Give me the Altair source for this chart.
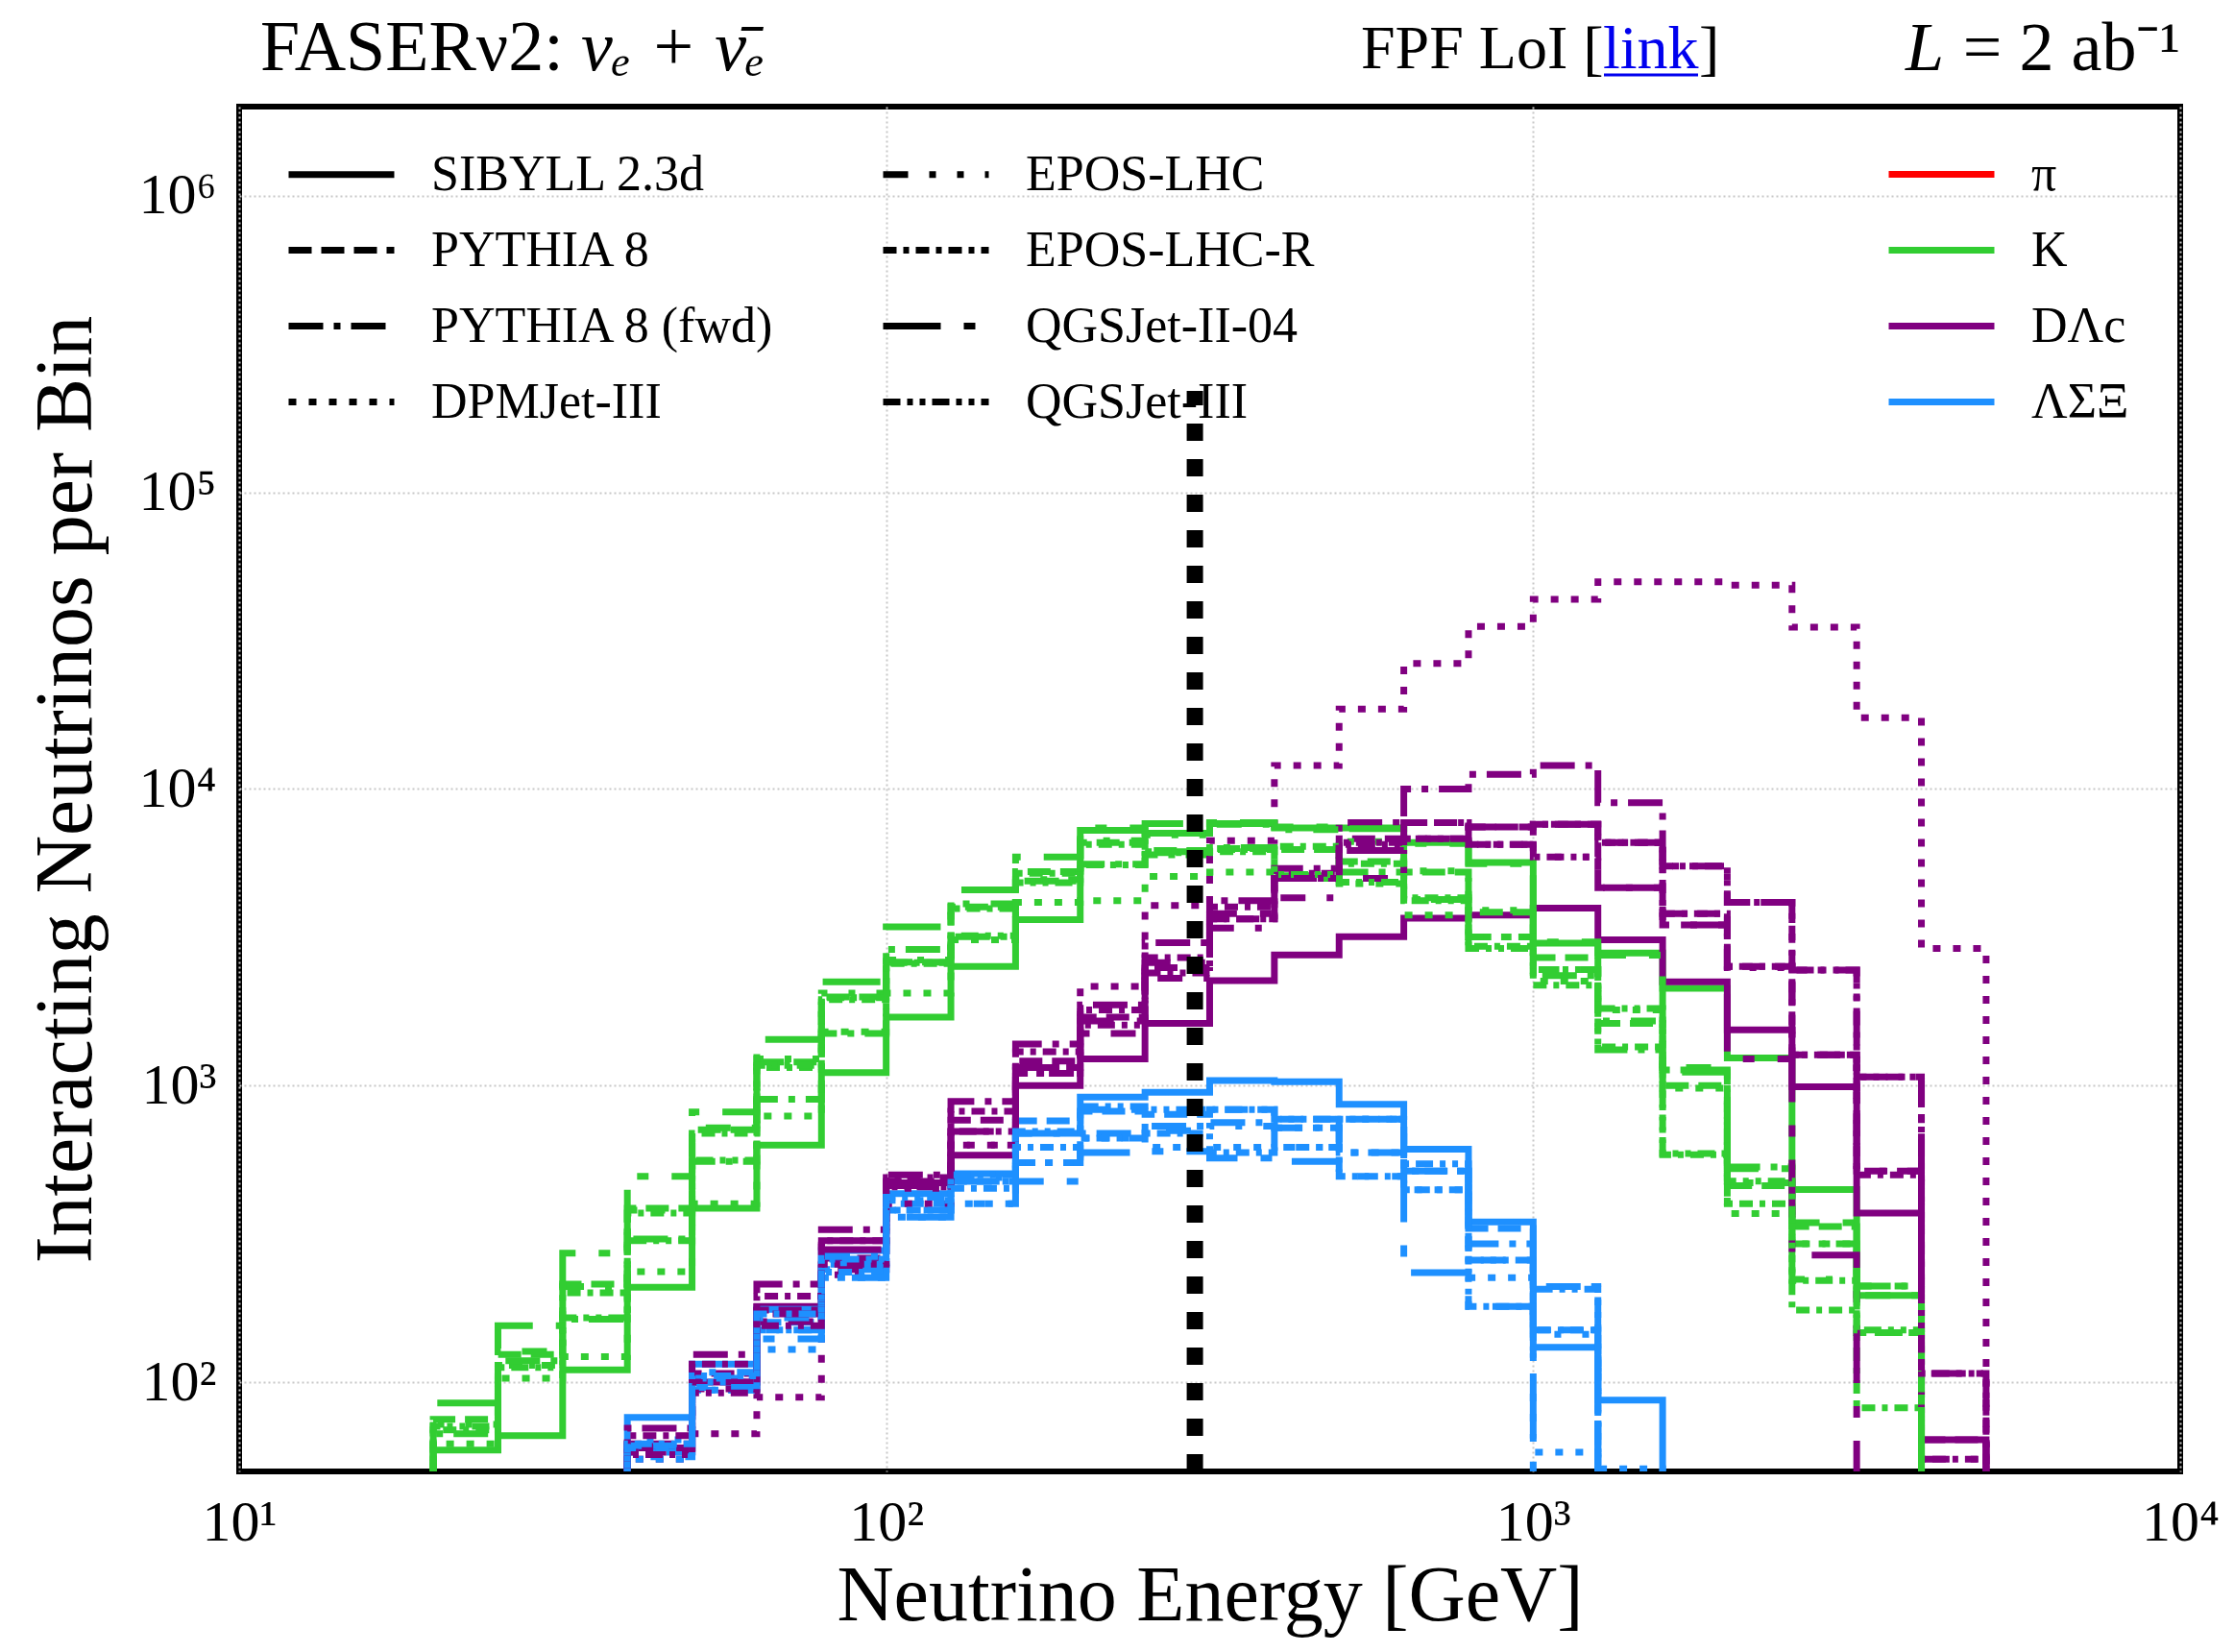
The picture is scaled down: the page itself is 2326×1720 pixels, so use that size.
import altair as alt
import pandas as pd

# ---------------- data ----------------
# bin edges in GeV (10 bins per decade, 10^1.3 ... 10^3.7)
EDGES = [19.95, 25.12, 31.62, 39.81, 50.12, 63.10, 79.43, 100.0, 125.9, 158.5,
         199.5, 251.2, 316.2, 398.1, 501.2, 631.0, 794.3, 1000.0, 1259.0, 1585.0,
         1995.0, 2512.0, 3162.0, 3981.0, 5012.0]

GENERATORS = ["SIBYLL 2.3d", "PYTHIA 8", "PYTHIA 8 (fwd)", "DPMJet-III",
              "EPOS-LHC", "EPOS-LHC-R", "QGSJet-II-04", "QGSJet-III"]
PARTICLES = ["π", "K", "DΛc", "ΛΣΞ"]
COLORS = ["#ff0000", "#32cd32", "#800080", "#1e90ff"]

# Kaons: first bin starts at EDGES[0]
K_START = 0
K_SIBYLL = [59, 66, 110, 209, 386, 630, 1107, 1700, 2520, 3630, 7250, 7100, 7650, 7400, 7400, 6600, 5650, 3020, 2800, 2130, 1240, 446, 196]
K_PYTHIA = [75, 124, 214, 386, 710, 1200, 1990, 2610, 4000, 5270, 6600, 6200, 6300, 6250, 5700, 5250, 3840, 2700, 1620, 1000, 460, 335, 147]
K_PYTHIAF = [67, 118, 163, 304, 555, 900, 1500, 2880, 3180, 4900, 5580, 6000, 6350, 5100, 5250, 4240, 3170, 2350, 1320, 1130, 532, 293, 211]
K_DPMJET = [62, 103, 122, 236, 400, 790, 1520, 2050, 3100, 4150, 4200, 5070, 5250, 5000, 4800, 3760, 3170, 2250, 1800, 980, 370, 293, 147]
K_EPOS = [72, 127, 210, 380, 720, 1230, 2050, 2650, 4100, 4950, 6700, 7000, 7600, 7300, 6650, 5300, 3900, 2460, 1650, 1150, 470, 222, 196]
K_EPOSR = [69, 114, 200, 372, 690, 1150, 1950, 2580, 3950, 5200, 6500, 6100, 6150, 6400, 5600, 4300, 2950, 2180, 1350, 585, 400, 175, 82]
K_QGSII = [85, 155, 272, 494, 815, 1430, 2240, 3430, 4570, 5900, 7400, 7650, 7700, 7450, 7350, 6550, 5600, 3050, 2750, 1110, 525, 345, 211]
K_QGSIII = [71, 112, 165, 300, 560, 1170, 1980, 2600, 3200, 4830, 5550, 6150, 6250, 5150, 4850, 4200, 2900, 2460, 1820, 590, 476, 220, 150]

# Charm: first bin starts at EDGES[3]
D_START = 3
D_SIBYLL = [60, 100, 180, 300, 470, 582, 1000, 1230, 1620, 2260, 2760, 3180, 3670, 3760, 3970, 3100, 2240, 1540, 990, 372, 64]
D_PYTHIA = [62, 107, 175, 262, 475, 765, 1210, 1700, 2500, 3650, 5000, 6800, 7700, 7450, 7600, 6600, 3800, 2520, 1270, 515, 64]
D_PYTHIAF = [70, 124, 214, 327, 500, 884, 1380, 1870, 3030, 4200, 5400, 7700, 10000, 11200, 12000, 9000, 5500, 4150, 2450, 1070, 107]
D_DPMJET = [55, 67, 89, 230, 400, 630, 1100, 2160, 4050, 6700, 12000, 18600, 26500, 35300, 43600, 50000, 50000, 48700, 35100, 17400, 2900]
D_EPOS = [58, 95, 160, 240, 450, 630, 1100, 1500, 2300, 3400, 4300, 5000, 6800, 6500, 5900, 4650, 3480, 2500, 1270, 515, 55]
D_EPOSR = [66, 115, 195, 300, 490, 820, 1300, 1800, 2700, 4000, 5200, 6600, 6800, 6500, 7600, 6600, 3800, 2520, 1270, 500, 55]
D_QGSII = [60, 100, 170, 280, 460, 700, 1150, 1650, 2600, 3800, 5000, 6200, 6800, 7450, 7600, 4650, 3480, 1230, 268]
D_QGSIII = [57, 92, 155, 250, 455, 700, 1150, 1600, 2400, 3650, 5000, 6500, 7700, 6500, 5900, 6600, 5500, 4150, 2450, 1070, 107]

# Hyperons: first bin starts at EDGES[3]
L_START = 3
L_SIBYLL = [76, 115, 176, 278, 432, 505, 690, 915, 950, 1040, 1030, 865, 610, 347, 131, 87]
L_PYTHIA = [61, 103, 159, 250, 400, 475, 760, 820, 800, 830, 770, 770, 515, 330, 150]
L_PYTHIAF = [58, 94, 150, 240, 380, 475, 550, 690, 730, 750, 720, 595, 515, 293, 210]
L_DPMJET = [55, 94, 129, 225, 360, 400, 550, 665, 620, 620, 720, 595, 445, 225, 58, 51]
L_EPOS = [64, 108, 165, 265, 410, 490, 690, 830, 705, 730, 620, 770, 515, 258, 145]
L_EPOSR = [60, 100, 150, 235, 380, 450, 620, 665, 690, 595, 620, 494, 445, 180, 150]
L_QGSII = [56, 96, 140, 225, 360, 400, 475, 595, 600, 570, 555, 494, 234, 180]
L_QGSIII = [62, 105, 170, 260, 420, 500, 700, 850, 830, 830, 770, 770, 545, 258, 206]

CUT_E = [300.0]          # vertical reference line
CUT_TOP = [2.2e5]

# ---------------- table ----------------
SERIES = {
    "K": (K_START, [K_SIBYLL, K_PYTHIA, K_PYTHIAF, K_DPMJET, K_EPOS, K_EPOSR, K_QGSII, K_QGSIII]),
    "DΛc": (D_START, [D_SIBYLL, D_PYTHIA, D_PYTHIAF, D_DPMJET, D_EPOS, D_EPOSR, D_QGSII, D_QGSIII]),
    "ΛΣΞ": (L_START, [L_SIBYLL, L_PYTHIA, L_PYTHIAF, L_DPMJET, L_EPOS, L_EPOSR, L_QGSII, L_QGSIII]),
}
FLOOR = 1.0  # below the axis: step edges fall off the bottom of the plot

rows = []
for gi, gen in enumerate(GENERATORS):
    for part, (start, lists) in SERIES.items():
        vals = lists[gi]
        pts = [(EDGES[start], FLOOR)]
        for i, v in enumerate(vals):
            pts.append((EDGES[start + i], v))
            pts.append((EDGES[start + i + 1], v))
        pts.append((EDGES[start + len(vals)], FLOOR))
        for k, (e, n) in enumerate(pts):
            rows.append({"E": e, "N": n, "particle": part, "generator": gen,
                         "series": part + "|" + gen, "idx": k})
df = pd.DataFrame(rows)

DASH = {
    "SIBYLL 2.3d": [1, 0],
    "PYTHIA 8": [24, 10],
    "PYTHIA 8 (fwd)": [36, 11, 7, 11],
    "DPMJet-III": [8, 13],
    "EPOS-LHC": [26, 22, 7, 22, 7, 22],
    "EPOS-LHC-R": [14, 7, 6, 7],
    "QGSJet-II-04": [60, 24, 12, 24],
    "QGSJet-III": [18, 7, 6, 7, 6, 7],
}

FONT = "Liberation Serif"
W, H = 2021, 1421

xscale = alt.Scale(type="log", domain=[10, 10000], nice=False)
yscale = alt.Scale(type="log", domain=[50, 2e6], nice=False)

xlab = ("datum.value == 10 ? '10¹' : datum.value == 100 ? '10²' : "
        "datum.value == 1000 ? '10³' : '10⁴'")
ylab = ("datum.value == 100 ? '10²' : datum.value == 1000 ? '10³' : "
        "datum.value == 10000 ? '10⁴' : datum.value == 100000 ? '10⁵' : '10⁶'")

xaxis = alt.Axis(values=[10, 100, 1000, 10000], labelExpr=xlab, labelFlush=False,
                 labelOverlap=False, labelPadding=24, titlePadding=6,
                 title="Neutrino Energy [GeV]", titleFontSize=82)
yaxis = alt.Axis(values=[100, 1000, 10000, 100000, 1000000], labelExpr=ylab,
                 labelOverlap=False, labelPadding=24, titlePadding=32,
                 title="Interacting Neutrinos per Bin")

common_leg = dict(title=None, orient="none", symbolType="M-1.5,0H1.5", symbolSize=5378,
                  symbolStrokeWidth=7, symbolFillColor="transparent",
                  labelFont=FONT, labelFontSize=52, labelColor="black",
                  labelOffset=53, labelLimit=0, padding=0, rowPadding=12)

lines = alt.Chart(df).mark_line(clip=True, strokeWidth=7, strokeCap="butt").encode(
    x=alt.X("E:Q", scale=xscale, axis=xaxis),
    y=alt.Y("N:Q", scale=yscale, axis=yaxis),
    color=alt.Color("particle:N", scale=alt.Scale(domain=PARTICLES, range=COLORS),
                    legend=alt.Legend(legendX=1732, legendY=30, columns=1, **common_leg)),
    strokeDash=alt.StrokeDash("generator:N",
                              scale=alt.Scale(domain=GENERATORS,
                                              range=[DASH[g] for g in GENERATORS]),
                              legend=alt.Legend(legendX=66, legendY=30, columns=2,
                                                columnPadding=97, symbolStrokeColor="black",
                                                **common_leg)),
    detail="series:N",
    order="idx:Q",
)

cut = alt.Chart(pd.DataFrame({"E": CUT_E, "lo": [50.0], "N": CUT_TOP})).mark_rule(
    color="black", strokeWidth=17, strokeDash=[18, 19], clip=True).encode(
    x=alt.X("E:Q", scale=xscale, axis=xaxis),
    y=alt.Y("lo:Q", scale=yscale, axis=yaxis),
    y2="N:Q",
)

one = alt.Data(values=[{}])


def txt(s, x, y, size, align="left", color="black", style="normal"):
    return alt.Chart(one).mark_text(text=s, font=FONT, fontSize=size, align=align,
                                    baseline="alphabetic", color=color,
                                    fontStyle=style).encode(
        x=alt.value(x), y=alt.value(y))


texts = [
    txt("FASERν2:", 22, -38, 74),
    txt("νₑ + ν̄ₑ", 356, -38, 74, style="italic"),
    txt("FPF LoI [", 1168, -40, 64),
    txt("link", 1420, -40, 64, color="#0000ee"),
    txt("]", 1520, -40, 64),
    txt("= 2 ab⁻¹", 2021, -38, 72, align="right"),
    txt("L", 1775, -38, 72, align="right", style="italic"),
]
underline = alt.Chart(one).mark_rule(color="#0000ee", strokeWidth=3).encode(
    x=alt.value(1421), x2=alt.value(1519), y=alt.value(-33))

chart = alt.layer(lines, cut, underline, *texts).properties(
    width=W, height=H,
    autosize=alt.AutoSizeParams(type="none"),
    padding={"left": 241, "top": 103, "right": 48, "bottom": 180},
).configure_view(stroke="black", strokeWidth=6).configure_axis(
    domain=False, ticks=False, grid=True, gridColor="#c8c8c8", gridDash=[2, 3],
    gridWidth=2, labelFont=FONT, labelFontSize=60, labelColor="black",
    titleFont=FONT, titleFontSize=84, titleColor="black", titleFontWeight="normal",
)

chart.save("out.html", embed_options={"renderer": "svg", "actions": False})
